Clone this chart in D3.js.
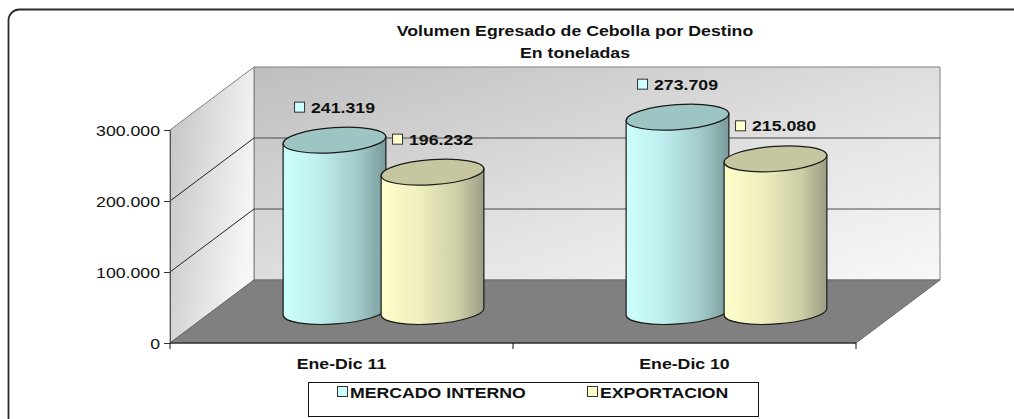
<!DOCTYPE html>
<html>
<head>
<meta charset="utf-8">
<script src="https://cdn.jsdelivr.net/npm/d3@7"></script>
<style>
  body { margin: 0; background: #fff; }
  svg { display: block; font-family: Arial, "Liberation Sans", sans-serif; }
</style>
</head>
<body>
<div id="chart"></div>
<script>
// data
var categories = ["Ene-Dic 11", "Ene-Dic 10"];
var series = ["MERCADO INTERNO", "EXPORTACION"];
var mercadoInterno = [241319, 273709];
var exportacion = [196232, 215080];
var yTicks = [0, 100000, 200000, 300000];
var titleLines = ["Volumen Egresado de Cebolla por Destino", "En toneladas"];

var width = 1014, height = 419;
var sx = 1.18;               // the original text is stretched sideways
var depth = {x: 84, y: -63}; // 3d offset of the back wall

var fmt = d3.formatLocale({decimal: ",", thousands: ".", grouping: [3], currency: ["", ""]}).format(",");

var svg = d3.select("#chart")
  .append("svg")
    .attr("width", width)
    .attr("height", height);

var defs = svg.append("defs");
function grad(id, x2, y2, stops) {
  var g = defs.append("linearGradient").attr("id", id)
    .attr("x1", 0).attr("y1", 0).attr("x2", x2).attr("y2", y2);
  stops.forEach(function(s) {
    g.append("stop").attr("offset", s[0]).attr("stop-color", s[1]);
  });
}
grad("backWall", 1, 1, [[0, "#bebebe"], [0.6, "#e4e4e4"], [1, "#f8f8f8"]]);
grad("sideWall", 1, 0.4, [[0, "#c2c2c2"], [1, "#f6f6f6"]]);
grad("cyl0", 1, 0, [[0, "#ccffff"], [0.35, "#bfeeee"], [0.75, "#9fc7c7"], [1, "#7a9a9a"]]);
grad("cyl1", 1, 0, [[0, "#ffffcc"], [0.35, "#f0f0c0"], [0.75, "#cdcda5"], [1, "#9c9c84"]]);
var topColors = ["#9cc5c3", "#c6c6a0"];
var keyColors = ["#ccffff", "#ffffcc"];

// outer frame (only its top-left part falls inside the picture)
svg.append("rect")
  .attr("x", 8.5).attr("y", 9.5)
  .attr("width", 1100).attr("height", 500)
  .attr("rx", 11)
  .attr("fill", "none")
  .attr("stroke", "#2b2b2b")
  .attr("stroke-width", 1.8);

// scales
var y = d3.scaleLinear()
  .domain([0, 300000])
  .range([343, 130]);
var x = d3.scaleBand()
  .domain(categories)
  .range([170, 856]);
var xs = d3.scaleBand()
  .domain(series)
  .range([-98, 98]);

var x0 = x.range()[0], x1 = x.range()[1];
var yTop = y(y.domain()[1]), yBot = y(0);

function pts(arr) { return arr.map(function(p) { return p.join(","); }).join(" "); }

// walls and floor
svg.append("polygon")
  .attr("points", pts([[x0 + depth.x, yTop + depth.y], [x1 + depth.x, yTop + depth.y],
                       [x1 + depth.x, yBot + depth.y], [x0 + depth.x, yBot + depth.y]]))
  .attr("fill", "url(#backWall)")
  .attr("stroke", "#808080");
svg.append("polygon")
  .attr("points", pts([[x0, yBot], [x0, yTop], [x0 + depth.x, yTop + depth.y], [x0 + depth.x, yBot + depth.y]]))
  .attr("fill", "url(#sideWall)")
  .attr("stroke", "#808080");
svg.append("polygon")
  .attr("points", pts([[x0, yBot], [x0 + depth.x, yBot + depth.y], [x1 + depth.x, yBot + depth.y], [x1, yBot]]))
  .attr("fill", "#808080")
  .attr("stroke", "#6a6a6a");

// gridlines on back wall and side wall
var inner = yTicks.filter(function(t) { return t > 0 && t < 300000; });
svg.append("g").selectAll("line.back")
  .data(inner).enter().append("line")
    .attr("x1", x0 + depth.x).attr("x2", x1 + depth.x)
    .attr("y1", function(d) { return y(d) + depth.y; })
    .attr("y2", function(d) { return y(d) + depth.y; })
    .attr("stroke", "#4a4a4a");
svg.append("g").selectAll("line.side")
  .data(inner).enter().append("line")
    .attr("x1", x0).attr("x2", x0 + depth.x)
    .attr("y1", function(d) { return y(d); })
    .attr("y2", function(d) { return y(d) + depth.y; })
    .attr("stroke", "#222");

// y axis
var yAxis = svg.append("g")
  .attr("transform", "translate(" + x0 + ",0)")
  .call(d3.axisLeft(y).tickValues(yTicks).tickFormat(fmt).tickSize(6).tickPadding(4));
yAxis.select(".domain").attr("stroke", "#555");
yAxis.selectAll(".tick line").attr("stroke", "#333");
yAxis.selectAll(".tick text")
  .attr("x", 0)
  .attr("dy", "0.36em")
  .attr("transform", "translate(-10,0) scale(" + sx + ",1)")
  .style("font-size", "15px")
  .attr("fill", "#111");

// x axis: line, ticks at category edges, labels at centres
svg.append("line")
  .attr("x1", x0).attr("x2", x1)
  .attr("y1", yBot).attr("y2", yBot)
  .attr("stroke", "#111");
var edges = categories.map(function(c) { return x(c); }).concat([x1]);
svg.append("g").selectAll("line")
  .data(edges).enter().append("line")
    .attr("x1", function(d) { return d; }).attr("x2", function(d) { return d; })
    .attr("y1", yBot).attr("y2", yBot + 6)
    .attr("stroke", "#111");

function stretchedText(sel, px, py, txt, anchor, weight) {
  return sel.append("text")
    .attr("transform", "translate(" + px + "," + py + ") scale(" + sx + ",1)")
    .attr("text-anchor", anchor)
    .style("font-size", "15px")
    .style("font-weight", weight)
    .attr("fill", "#111")
    .text(txt);
}

categories.forEach(function(c) {
  stretchedText(svg, x(c) + x.bandwidth() / 2, 369, c, "middle", "bold");
});

// cylinders
var rows = [];
categories.forEach(function(c, i) {
  rows.push({cat: c, ser: series[0], s: 0, value: mercadoInterno[i]});
  rows.push({cat: c, ser: series[1], s: 1, value: exportacion[i]});
});

var rx = 51.5, ry = 12.5, tilt = -4;
var ca = rx * Math.cos(tilt * Math.PI / 180), sb = rx * Math.sin(tilt * Math.PI / 180);

var cyl = svg.append("g").selectAll("g")
  .data(rows).enter().append("g");

cyl.each(function(d) {
  d.cx = x(d.cat) + x.bandwidth() / 2 + xs(d.ser) + xs.bandwidth() / 2 + depth.x / 2;
  d.base = y(0) + depth.y / 2;
  d.top = y(d.value) + depth.y / 2;
});

cyl.append("path")
  .attr("d", function(d) {
    var lx = d.cx - ca, rxp = d.cx + ca;
    return "M" + lx + "," + (d.top - sb) +
      "L" + lx + "," + (d.base - sb) +
      "A" + rx + "," + ry + " " + tilt + " 0 0 " + rxp + "," + (d.base + sb) +
      "L" + rxp + "," + (d.top + sb) + "Z";
  })
  .attr("fill", function(d) { return "url(#cyl" + d.s + ")"; })
  .attr("stroke", "#1a1a1a")
  .attr("stroke-width", 1.2);

cyl.append("ellipse")
  .attr("cx", function(d) { return d.cx; })
  .attr("cy", function(d) { return d.top; })
  .attr("rx", rx).attr("ry", ry)
  .attr("transform", function(d) { return "rotate(" + tilt + "," + d.cx + "," + d.top + ")"; })
  .attr("fill", function(d) { return topColors[d.s]; })
  .attr("stroke", "#1a1a1a")
  .attr("stroke-width", 1.2);

// value labels with little keys
cyl.each(function(d) {
  var g = d3.select(this).append("g");
  var ly = d.top - 33;
  var t = stretchedText(g, 0, ly + 5.4, fmt(d.value), "start", "bold");
  var tw = t.node().getComputedTextLength() * sx;
  var total = 10 + 7 + tw;
  var left = d.cx - total / 2;
  g.append("rect")
    .attr("x", left + 0.5).attr("y", ly - 5)
    .attr("width", 10).attr("height", 10)
    .attr("fill", keyColors[d.s])
    .attr("stroke", "#333");
  t.attr("transform", "translate(" + (left + 17) + "," + (ly + 5.4) + ") scale(" + sx + ",1)");
});

// title
titleLines.forEach(function(line, i) {
  stretchedText(svg, 575, 36 + i * 22, line, "middle", "bold");
});

// legend
var legend = svg.append("g");
legend.append("rect")
  .attr("x", 308.5).attr("y", 382.5)
  .attr("width", 450).attr("height", 34)
  .attr("fill", "#fff")
  .attr("stroke", "#111");
series.forEach(function(s, i) {
  var lx = 337 + i * 250;
  legend.append("rect")
    .attr("x", lx + 0.5).attr("y", 386.5)
    .attr("width", 10).attr("height", 10)
    .attr("fill", keyColors[i])
    .attr("stroke", "#333");
  stretchedText(legend, lx + 13, 397.5, s, "start", "bold");
});
</script>
</body>
</html>
